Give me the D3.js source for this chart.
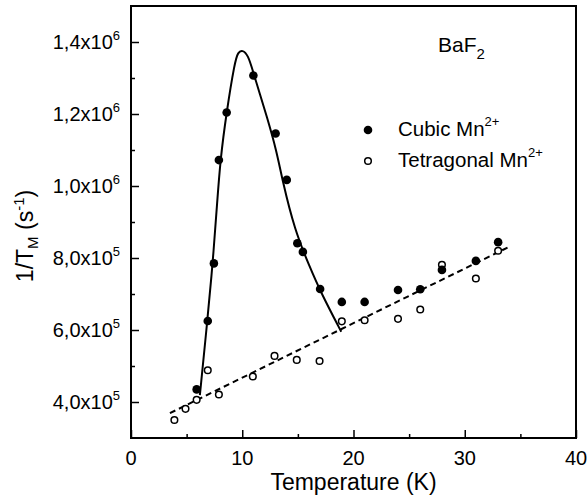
<!DOCTYPE html>
<html>
<head>
<meta charset="utf-8">
<script src="https://cdn.jsdelivr.net/npm/d3@7"></script>
<style>
  body { margin: 0; background: #fff; }
  svg { display: block; font-family: "Liberation Sans", Arial, sans-serif; }
</style>
</head>
<body>
<svg id="chart" width="588" height="504"></svg>
<script>
// cubic Mn2+ (filled)
const cubicT = [5.9, 6.9, 7.45, 7.9, 8.6, 11.0, 13.0, 14.0, 14.95, 15.45, 17.0, 18.95, 21.0, 24.0, 26.0, 27.95, 31.0, 33.0]
const cubicV = [4.35e5, 6.25e5, 7.85e5, 1.072e6, 1.204e6, 1.307e6, 1.146e6, 1.017e6, 8.41e5, 8.17e5, 7.14e5, 6.78e5, 6.78e5, 7.11e5, 7.13e5, 7.67e5, 7.92e5, 8.44e5]

// tetragonal Mn2+ (open)
const tetraT = [3.9, 4.9, 5.9, 6.9, 7.9, 10.95, 12.9, 14.9, 16.95, 18.95, 21.0, 24.0, 26.0, 27.95, 31.0, 33.0]
const tetraV = [3.5e5, 3.81e5, 4.06e5, 4.88e5, 4.21e5, 4.71e5, 5.28e5, 5.17e5, 5.14e5, 6.24e5, 6.27e5, 6.31e5, 6.57e5, 7.81e5, 7.43e5, 8.2e5]

// solid fit curve
const fitT = [6.19, 6.86, 7.35, 7.76, 8.03, 8.58, 9.33, 9.62, 10.02, 10.52, 10.97, 11.57, 12.17, 13.07, 13.6, 14.71, 16.05, 17.1, 18.9]
const fitV = [4.19e5, 6.25e5, 7.86e5, 9.61e5, 1.072e6, 1.204e6, 1.345e6, 1.372e6, 1.378e6, 1.364e6, 1.318e6, 1.257e6, 1.197e6, 1.1e6, 1.017e6, 8.78e5, 7.76e5, 7.02e5, 5.95e5]

// dashed linear fit through tetragonal points
const lineT = [3.5, 33.85]
const lineV = [3.69e5, 8.29e5]

const xTicks = [0, 10, 20, 30, 40]
const xMinor = [5, 15, 25, 35]
const yTicks = [4e5, 6e5, 8e5, 1.0e6, 1.2e6, 1.4e6]
const yMinor = [5e5, 7e5, 9e5, 1.1e6, 1.3e6]

const svg = d3.select('#chart')
const mLeft = 131, mRight = 576, mTop = 6, mBottom = 438

const x = d3.scaleLinear().domain([0, 40]).range([mLeft, mRight])
const y = d3.scaleLinear().domain([3e5, 1.5e6]).range([mBottom, mTop])

// frame
svg.append('rect')
  .attr('x', mLeft).attr('y', mTop)
  .attr('width', mRight - mLeft).attr('height', mBottom - mTop)
  .attr('fill', 'none').attr('stroke', '#000').attr('stroke-width', 2)

// axes, ticks inside
const xAxis = svg.append('g').attr('transform', 'translate(0,' + mBottom + ')')
  .call(d3.axisTop(x).tickValues(xTicks).tickSize(8).tickFormat(''))
xAxis.append('g').call(d3.axisTop(x).tickValues(xMinor).tickSize(4).tickFormat(''))
xAxis.selectAll('path.domain').remove()
xAxis.selectAll('line').attr('stroke-width', 1.5)

const yAxis = svg.append('g').attr('transform', 'translate(' + mLeft + ',0)')
  .call(d3.axisRight(y).tickValues(yTicks).tickSize(8).tickFormat(''))
yAxis.append('g').call(d3.axisRight(y).tickValues(yMinor).tickSize(4).tickFormat(''))
yAxis.selectAll('path.domain').remove()
yAxis.selectAll('line').attr('stroke-width', 1.5)

// x tick labels
svg.append('g').selectAll('text').data(xTicks).enter().append('text')
  .attr('x', d => x(d)).attr('y', 465)
  .attr('text-anchor', 'middle').attr('font-size', 20)
  .text(d => d)

// y tick labels like 1,4x10^6
const yl = svg.append('g').selectAll('text').data(yTicks).enter().append('text')
  .attr('x', 120).attr('y', d => y(d) + 7)
  .attr('text-anchor', 'end').attr('font-size', 20)
yl.each(function (d) {
  const e = Math.floor(Math.log10(d) + 1e-9)
  const m = (d / Math.pow(10, e)).toFixed(1).replace('.', ',')
  const t = d3.select(this)
  t.append('tspan').text(m + 'x10')
  t.append('tspan').attr('font-size', 13).attr('dy', -9).text(e)
})

// axis titles
svg.append('text')
  .attr('x', (mLeft + mRight) / 2).attr('y', 490)
  .attr('text-anchor', 'middle').attr('font-size', 23)
  .text('Temperature (K)')

const yt = svg.append('text')
  .attr('transform', 'translate(33,236) rotate(-90)')
  .attr('text-anchor', 'middle').attr('font-size', 23)
yt.append('tspan').text('1/T')
yt.append('tspan').attr('font-size', 15).attr('dy', 5).text('M')
yt.append('tspan').attr('dy', -5).text(' (s')
yt.append('tspan').attr('font-size', 15).attr('dy', -9).text('-1')
yt.append('tspan').attr('dy', 9).text(')')

// fits
const fitData = fitT.map((t, i) => [t, fitV[i]])
svg.append('path')
  .attr('d', d3.line().x(d => x(d[0])).y(d => y(d[1])).curve(d3.curveBasis)(fitData))
  .attr('fill', 'none').attr('stroke', '#000').attr('stroke-width', 2)

const lineData = lineT.map((t, i) => [t, lineV[i]])
svg.append('path')
  .attr('d', d3.line().x(d => x(d[0])).y(d => y(d[1]))(lineData))
  .attr('fill', 'none').attr('stroke', '#000').attr('stroke-width', 2)
  .attr('stroke-dasharray', '6,4')

// points
svg.append('g').selectAll('circle').data(tetraT.map((t, i) => [t, tetraV[i]])).enter()
  .append('circle')
  .attr('cx', d => x(d[0])).attr('cy', d => y(d[1])).attr('r', 3.3)
  .attr('fill', '#fff').attr('stroke', '#000').attr('stroke-width', 1.5)

svg.append('g').selectAll('circle').data(cubicT.map((t, i) => [t, cubicV[i]])).enter()
  .append('circle')
  .attr('cx', d => x(d[0])).attr('cy', d => y(d[1])).attr('r', 4.3)
  .attr('fill', '#000')

// label BaF2
const lab = svg.append('text').attr('x', 438).attr('y', 52).attr('font-size', 21)
lab.append('tspan').text('BaF')
lab.append('tspan').attr('font-size', 15).attr('dy', 7).text('2')

// legend
const legend = [
  { name: 'Cubic Mn', open: false, y: 130 },
  { name: 'Tetragonal Mn', open: true, y: 161 }
]
const lg = svg.append('g').selectAll('g').data(legend).enter().append('g')
lg.append('circle')
  .attr('cx', 368).attr('cy', d => d.y)
  .attr('r', d => d.open ? 3.3 : 4.3)
  .attr('fill', d => d.open ? '#fff' : '#000')
  .attr('stroke', '#000').attr('stroke-width', d => d.open ? 1.5 : 0)
const lt = lg.append('text').attr('x', 398).attr('y', d => d.y + 6).attr('font-size', 20.5)
lt.append('tspan').text(d => d.name)
lt.append('tspan').attr('font-size', 13).attr('dy', -10).text('2+')
</script>
</body>
</html>
